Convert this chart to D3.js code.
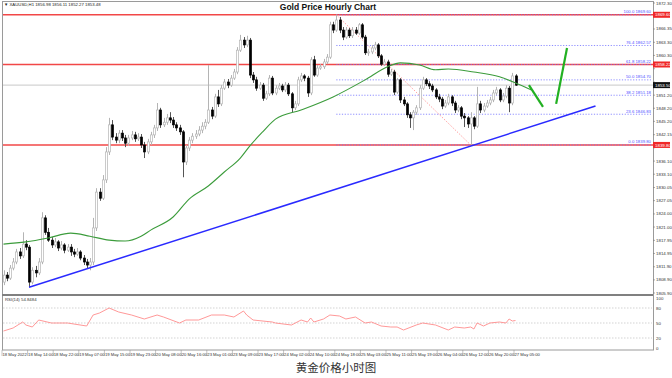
<!DOCTYPE html>
<html><head><meta charset="utf-8">
<script src="https://cdn.jsdelivr.net/npm/d3@7"></script>
<style>
body{margin:0;background:#fff;}
svg{display:block;font-family:"Liberation Sans",Arial,sans-serif;}
</style></head><body>
<svg id="chart" width="672" height="378"></svg>
<script>
// hourly XAUUSD bars, 18 May 06:00 .. 27 May 05:00
var opens = [1808.4,1810.0,1809.3,1811.6,1813.0,1815.3,1814.4,1817.1,1816.4,1808.4,
	1811.1,1810.5,1813.0,1823.1,1819.8,1818.0,1816.9,1817.6,1816.2,1816.9,
	1815.7,1816.4,1815.3,1814.8,1815.3,1813.9,1813.0,1812.3,1813.0,1820.8,
	1829.0,1827.6,1831.8,1838.2,1844.4,1841.6,1840.9,1842.5,1841.4,1840.2,
	1841.4,1842.1,1841.2,1841.6,1839.8,1838.2,1840.5,1842.1,1843.7,1847.8,
	1844.4,1845.0,1846.0,1845.5,1844.4,1843.7,1842.8,1835.9,1839.1,1840.9,
	1841.8,1842.3,1843.2,1844.1,1845.0,1847.8,1846.4,1850.8,1849.2,1852.8,
	1854.2,1853.5,1855.1,1856.5,1861.5,1863.8,1862.7,1863.8,1855.8,1854.7,
	1852.8,1853.5,1850.5,1851.5,1855.1,1851.7,1852.8,1853.3,1852.4,1853.5,
	1851.5,1848.3,1849.2,1854.7,1855.6,1855.1,1851.7,1859.3,1855.8,1857.4,
	1857.7,1858.8,1859.9,1867.3,1866.1,1868.4,1866.1,1864.5,1866.1,1864.8,
	1866.1,1865.4,1867.3,1864.5,1860.9,1861.1,1862.0,1862.7,1860.2,1858.3,
	1858.8,1856.0,1856.5,1851.9,1854.7,1850.1,1849.2,1846.7,1846.0,1847.3,
	1848.3,1852.8,1854.7,1853.8,1853.3,1852.4,1850.8,1850.3,1848.7,1849.4,
	1850.8,1849.4,1847.8,1848.3,1846.4,1846.0,1844.6,1846.0,1844.1,1849.2,
	1847.8,1848.7,1849.4,1850.1,1851.7,1852.4,1850.1,1851.0,1852.8,1849.4,
	1855.6];
var highs = [1811.1,1810.7,1812.3,1813.9,1816.0,1816.2,1819.8,1818.0,1816.9,1811.8,
	1812.1,1813.9,1824.4,1823.7,1820.8,1818.7,1818.5,1818.0,1817.8,1817.3,
	1817.1,1817.1,1816.0,1816.2,1815.7,1814.6,1813.7,1813.9,1823.1,1829.9,
	1829.9,1832.9,1839.3,1846.0,1845.5,1842.5,1843.2,1843.2,1842.1,1842.1,
	1843.0,1842.8,1842.5,1842.3,1840.5,1841.2,1842.8,1844.4,1849.4,1848.3,
	1846.0,1846.9,1847.3,1846.2,1845.0,1844.4,1843.2,1839.8,1841.6,1842.5,
	1843.2,1844.1,1845.0,1845.7,1858.1,1848.5,1851.5,1852.4,1853.5,1854.9,
	1854.9,1855.8,1857.2,1862.2,1865.0,1864.5,1864.8,1864.3,1856.5,1855.4,
	1854.2,1854.0,1852.2,1855.8,1855.6,1853.5,1854.0,1853.8,1854.2,1854.0,
	1851.9,1849.9,1855.4,1856.3,1856.0,1855.6,1859.9,1860.2,1858.1,1858.3,
	1859.5,1860.6,1868.0,1868.0,1869.6,1869.1,1866.8,1866.8,1866.6,1866.8,
	1866.8,1867.7,1867.7,1865.0,1861.8,1862.7,1863.4,1863.1,1860.6,1859.5,
	1859.3,1857.2,1857.0,1855.1,1855.1,1850.8,1849.6,1847.3,1847.8,1848.9,
	1853.5,1855.4,1855.1,1854.4,1853.8,1852.8,1851.5,1850.8,1850.1,1851.5,
	1851.2,1849.9,1848.9,1848.7,1847.1,1846.4,1847.3,1846.4,1853.1,1849.9,
	1849.4,1850.1,1850.8,1852.4,1853.1,1852.8,1851.7,1853.5,1853.3,1856.3,
	1856.0];
var lows = [1807.7,1808.6,1808.9,1811.1,1812.5,1813.7,1813.9,1815.7,1807.2,1807.9,
	1809.5,1810.0,1812.5,1819.2,1817.6,1816.2,1816.4,1815.5,1815.7,1815.0,
	1815.3,1814.4,1814.1,1814.4,1813.4,1812.3,1811.6,1811.1,1812.3,1820.1,
	1827.0,1827.2,1831.1,1837.5,1840.9,1840.2,1840.2,1840.7,1839.3,1839.6,
	1840.9,1840.5,1840.7,1839.1,1836.8,1837.7,1839.8,1841.4,1843.0,1843.7,
	1843.9,1844.4,1844.8,1843.7,1843.0,1842.1,1832.4,1835.2,1838.4,1840.2,
	1841.2,1841.8,1842.5,1843.4,1844.6,1845.7,1846.0,1848.5,1848.7,1852.4,
	1852.8,1853.1,1854.7,1856.0,1861.1,1862.0,1862.2,1855.1,1854.0,1852.2,
	1852.4,1849.9,1850.1,1851.0,1851.2,1851.2,1852.4,1851.9,1851.9,1851.0,
	1847.3,1847.8,1848.7,1854.2,1854.4,1850.8,1851.2,1855.4,1855.4,1857.0,
	1857.2,1858.3,1859.5,1865.4,1865.7,1865.4,1863.8,1864.1,1864.3,1864.3,
	1865.0,1865.0,1864.1,1860.4,1860.2,1860.6,1861.5,1859.7,1857.9,1857.9,
	1855.4,1855.6,1851.2,1851.5,1849.4,1848.7,1846.0,1843.7,1843.2,1846.7,
	1847.8,1852.4,1853.3,1852.6,1851.9,1850.3,1849.6,1848.0,1848.3,1848.9,
	1848.7,1847.1,1847.3,1845.7,1843.9,1843.7,1839.8,1843.4,1843.7,1847.1,
	1847.3,1848.3,1848.9,1849.6,1851.2,1849.6,1849.6,1850.5,1847.3,1848.9,
	1853.3];
var closes = [1810.0,1809.3,1811.6,1813.0,1815.3,1814.4,1817.1,1816.4,1808.4,1811.1,
	1810.5,1813.0,1823.1,1819.8,1818.0,1816.9,1817.6,1816.2,1816.9,1815.7,
	1816.4,1815.3,1814.8,1815.3,1813.9,1813.0,1812.3,1813.0,1820.8,1829.0,
	1827.6,1831.8,1838.2,1844.4,1841.6,1840.9,1842.5,1841.4,1840.2,1841.4,
	1842.1,1841.2,1841.6,1839.8,1838.2,1840.5,1842.1,1843.7,1847.8,1844.4,
	1845.0,1846.0,1845.5,1844.4,1843.7,1842.8,1835.9,1839.1,1840.9,1841.8,
	1842.3,1843.2,1844.1,1845.0,1847.8,1846.4,1850.8,1849.2,1852.8,1854.2,
	1853.5,1855.1,1856.5,1861.5,1863.8,1862.7,1863.8,1855.8,1854.7,1852.8,
	1853.5,1850.5,1851.5,1855.1,1851.7,1852.8,1853.3,1852.4,1853.5,1851.5,
	1848.3,1849.2,1854.7,1855.6,1855.1,1851.7,1859.3,1855.8,1857.4,1857.7,
	1858.8,1859.9,1867.3,1866.1,1868.4,1866.1,1864.5,1866.1,1864.8,1866.1,
	1865.4,1867.3,1864.5,1860.9,1861.1,1862.0,1862.7,1860.2,1858.3,1858.8,
	1856.0,1856.5,1851.9,1854.7,1850.1,1849.2,1846.7,1846.0,1847.3,1848.3,
	1852.8,1854.7,1853.8,1853.3,1852.4,1850.8,1850.3,1848.7,1849.4,1850.8,
	1849.4,1847.8,1848.3,1846.4,1846.0,1844.6,1846.0,1844.1,1849.2,1847.8,
	1848.7,1849.4,1850.1,1851.7,1852.4,1850.1,1851.0,1852.8,1849.4,1855.6,
	1853.5];

var dateLabels = ["18 May 2022","18 May 14:00","18 May 22:00","19 May 07:00","19 May 15:00","19 May 23:00",
	"20 May 08:00","20 May 16:00","23 May 01:00","23 May 09:00","23 May 17:00","24 May 02:00","24 May 10:00",
	"24 May 18:00","25 May 03:00","25 May 11:00","25 May 19:00","26 May 04:00","26 May 12:00","26 May 20:00",
	"27 May 05:00"];
var labelBars = [0,8,16,24,32,40,48,56,64,72,80,88,96,104,112,120,128,136,144,152,160];

var priceTicks = ["1872.30","1869.25","1866.35","1863.30","1860.30","1857.25","1854.20","1851.20","1848.20",
	"1845.20","1842.15","1839.15","1836.10","1833.10","1830.05","1827.05","1824.00","1821.00","1817.95",
	"1814.95","1811.90","1808.90","1805.90"];

// moving average (green), read at a few bars
var maBars = [0,7,14,21,27,33,38,43,46,53,58,64,69,74,77,81,85,93,103,113,120,124,130,135,139,147,155,160,165];
var maValues = [1817.1,1817.6,1818.5,1819.6,1818.9,1818.0,1817.8,1818.9,1820.3,1823.3,1827.4,1830.4,1833.6,
	1836.8,1839.6,1842.8,1845.7,1847.8,1850.8,1854.7,1857.7,1858.6,1858.1,1857.0,1857.2,1856.5,1855.4,1854.0,1852.4];

// RSI(14)
var rsiBars = [0,3,6,7,9,11,15,20,26,28,30,33,36,40,44,48,50,55,57,61,65,69,72,75,76,78,84,85,90,93,95,96,97,
	100,102,105,107,110,113,115,118,121,123,125,129,131,135,139,141,144,146,147,148,150,152,155,157,158,159,160];
var rsiValues = [34,40,52,46,42,56,50,50,44,66,70,80,72,66,58,66,62,50,56,56,66,66,62,74,66,56,52,50,46,56,52,60,52,
	58,66,64,58,62,50,52,44,42,42,36,46,50,46,36,42,40,42,38,50,44,50,52,50,58,54,55];
var rsiLevels = [80,50,20];
var rsiTicks = [100,80,50,20,0];

var fibNames = ["100.0","76.4","61.8","50.0","38.2","23.6","0.0"];
var fibValues = [1869.60,1862.57,1858.22,1854.70,1851.18,1846.83,1839.80];
var fibBars = [104,146];
var fibPrices = [1869.60,1839.80];
var redLevels = [1869.60,1858.22,1839.80];
var lastPrice = 1853.50;
var trendBars = [8,185];
var trendPrices = [1807.2,1848.7];
var projBarsA = [164.2,168.6], projPricesA = [1853.5,1848.5];
var projBarsB = [172.7,176.1], projPricesB = [1849.2,1862.0];

var svg = d3.select("#chart");
var padLeft = 2, axisX = 653, padTop = 2, mainBottom = 294, rsiBottom = 350;

var x = d3.scaleLinear().domain([0, 160]).range([3.5, 515.5]);
var y = d3.scaleLinear().domain([1805.90, 1872.30]).range([293, 3]);
var yr = d3.scaleLinear().domain([0, 100]).range([348, 298]);

var bars = d3.range(closes.length).map(function(i) {
	return {i: i, o: opens[i], h: highs[i], l: lows[i], c: closes[i]};
});

// clip for main pane
svg.append("clipPath").attr("id", "mainClip").append("rect")
	.attr("x", padLeft).attr("y", padTop).attr("width", axisX - padLeft).attr("height", mainBottom - padTop);
var main = svg.append("g").attr("clip-path", "url(#mainClip)");

// current price line
main.append("line").attr("x1", padLeft).attr("x2", axisX)
	.attr("y1", y(lastPrice)).attr("y2", y(lastPrice))
	.style("stroke", "#c8c8c8").style("stroke-width", 1);

// red support / resistance lines
redLevels.forEach(function(v) {
	main.append("line").attr("x1", padLeft).attr("x2", axisX)
		.attr("y1", y(v)).attr("y2", y(v))
		.style("stroke", "#f02828").style("stroke-width", 1.6).style("opacity", 0.85);
});

// fibonacci levels
var fibX0 = x(fibBars[0]);
fibValues.forEach(function(v, k) {
	main.append("line").attr("x1", fibX0).attr("x2", axisX - 2)
		.attr("y1", y(v)).attr("y2", y(v))
		.style("stroke", "#7070ff").style("stroke-width", 0.8).style("stroke-dasharray", "1.2,1.6");
	main.append("text").attr("x", axisX - 2).attr("y", y(v) - 1.5)
		.attr("text-anchor", "end").style("font-size", "4.3px").style("fill", "#5050ff")
		.text(fibNames[k] + " " + v.toFixed(2));
});
main.append("line")
	.attr("x1", x(fibBars[0])).attr("y1", y(fibPrices[0]))
	.attr("x2", x(fibBars[1])).attr("y2", y(fibPrices[1]))
	.style("stroke", "#ff8a8a").style("stroke-width", 0.8).style("stroke-dasharray", "1.5,1.5");

// candles
var cg = main.append("g");
cg.selectAll("line.wick").data(bars).enter().append("line")
	.attr("class", "wick")
	.attr("x1", function(d) { return Math.round(x(d.i)) + 0.5; })
	.attr("x2", function(d) { return Math.round(x(d.i)) + 0.5; })
	.attr("y1", function(d) { return y(d.h); })
	.attr("y2", function(d) { return y(d.l); })
	.style("stroke", function(d) { return d.c >= d.o ? "#b4b4b4" : "#555"; })
	.style("stroke-width", 1);
cg.selectAll("rect.body").data(bars).enter().append("rect")
	.attr("class", "body")
	.attr("x", function(d) { return Math.round(x(d.i)) - 0.5; })
	.attr("width", 2)
	.attr("y", function(d) { return y(Math.max(d.o, d.c)); })
	.attr("height", function(d) { return Math.max(1, Math.abs(y(d.o) - y(d.c))); })
	.style("fill", function(d) { return d.c >= d.o ? "#fff" : "#000"; })
	.style("stroke", function(d) { return d.c >= d.o ? "#b4b4b4" : "#000"; })
	.style("stroke-width", 0.7);

// moving average
main.append("path")
	.datum(maBars.map(function(b, k) { return [b, maValues[k]]; }))
	.attr("d", d3.line().x(function(d) { return x(d[0]); }).y(function(d) { return y(d[1]); })
		.curve(d3.curveMonotoneX))
	.style("fill", "none").style("stroke", "#3c9c3c").style("stroke-width", 1.1);

// trend line
main.append("line")
	.attr("x1", x(trendBars[0])).attr("y1", y(trendPrices[0]))
	.attr("x2", x(trendBars[1])).attr("y2", y(trendPrices[1]))
	.style("stroke", "#2a2aff").style("stroke-width", 1.5);

// projected path
[[projBarsA, projPricesA], [projBarsB, projPricesB]].forEach(function(p) {
	main.append("line")
		.attr("x1", x(p[0][0])).attr("y1", y(p[1][0]))
		.attr("x2", x(p[0][1])).attr("y2", y(p[1][1]))
		.style("stroke", "#22b022").style("stroke-width", 2.2);
});

// frame
svg.append("rect").attr("x", padLeft + 0.5).attr("y", padTop - 0.5)
	.attr("width", axisX - padLeft).attr("height", rsiBottom - padTop + 0.5)
	.style("fill", "none").style("stroke", "#9a9a9a").style("stroke-width", 1);
svg.append("line").attr("x1", padLeft).attr("x2", axisX).attr("y1", 295).attr("y2", 295)
	.style("stroke", "#808080").style("stroke-width", 2);

// price axis labels (the tags cover the ones under them)
var tagLevels = redLevels.concat([lastPrice]);
var shownTicks = priceTicks.filter(function(d) {
	return tagLevels.every(function(v) { return Math.abs(y(+d) - y(v)) > 5; });
});
svg.selectAll("text.ptick").data(shownTicks).enter().append("text")
	.attr("class", "ptick")
	.attr("x", 656).attr("y", function(d) { return y(+d) + 1.5; })
	.style("font-size", "4.4px").style("fill", "#333")
	.text(function(d) { return d; });
svg.selectAll("line.ptick").data(priceTicks).enter().append("line")
	.attr("x1", axisX).attr("x2", axisX + 2)
	.attr("y1", function(d) { return y(+d); }).attr("y2", function(d) { return y(+d); })
	.style("stroke", "#777").style("stroke-width", 0.6);

// red price tags and current price tag
redLevels.forEach(function(v) {
	svg.append("rect").attr("x", axisX).attr("y", y(v) - 3).attr("width", 17).attr("height", 6)
		.style("fill", "#f02828");
	svg.append("text").attr("x", axisX + 2).attr("y", y(v) + 1.6)
		.style("font-size", "4.4px").style("fill", "#fff").text(v.toFixed(2));
});
svg.append("rect").attr("x", axisX).attr("y", y(lastPrice) - 3).attr("width", 17).attr("height", 6)
	.style("fill", "#111");
svg.append("text").attr("x", axisX + 2).attr("y", y(lastPrice) + 1.6)
	.style("font-size", "4.4px").style("fill", "#fff").text(lastPrice.toFixed(2));

// RSI pane
rsiLevels.forEach(function(v) {
	svg.append("line").attr("x1", padLeft + 1).attr("x2", axisX - 1)
		.attr("y1", yr(v)).attr("y2", yr(v))
		.style("stroke", "#c8c8c8").style("stroke-width", 0.8).style("stroke-dasharray", "1.5,1.5");
});
svg.append("path")
	.datum(rsiBars.map(function(b, k) { return [b, rsiValues[k]]; }))
	.attr("d", d3.line().x(function(d) { return x(d[0]); }).y(function(d) { return yr(d[1]); }))
	.style("fill", "none").style("stroke", "#ff8c8c").style("stroke-width", 0.9);
svg.selectAll("text.rtick").data(rsiTicks).enter().append("text")
	.attr("x", 656).attr("y", function(d) { return yr(d) + 1.5; })
	.style("font-size", "4.4px").style("fill", "#333")
	.text(function(d) { return d; });
svg.append("text").attr("x", 5).attr("y", 301).style("font-size", "4.3px").style("fill", "#333")
	.text("RSI(14) 54.8484");

// time axis
labelBars.forEach(function(b, k) {
	var bx = x(b);
	svg.append("line").attr("x1", bx - 1.5).attr("x2", bx - 1.5).attr("y1", 350).attr("y2", 356)
		.style("stroke", "#888").style("stroke-width", 0.5);
	svg.append("text").attr("x", bx - 1).attr("y", 355.5)
		.style("font-size", "4.2px").style("fill", "#333").text(dateLabels[k]);
});

// header and titles
svg.append("text").attr("x", 4).attr("y", 6).style("font-size", "4.3px").style("fill", "#222")
	.text("\u25BC XAUUSD,H1  1856.98 1856.11 1852.27 1853.48");
svg.append("text").attr("x", 328).attr("y", 9.5).attr("text-anchor", "middle")
	.style("font-size", "8.5px").style("font-weight", "bold").style("fill", "#111")
	.text("Gold Price Hourly Chart");
svg.append("text").attr("x", 336).attr("y", 372).attr("text-anchor", "middle")
	.style("font-family", "'Noto Sans CJK SC', sans-serif")
	.style("font-size", "11.5px").style("fill", "#333")
	.text("黄金价格小时图");
</script>
</body></html>
